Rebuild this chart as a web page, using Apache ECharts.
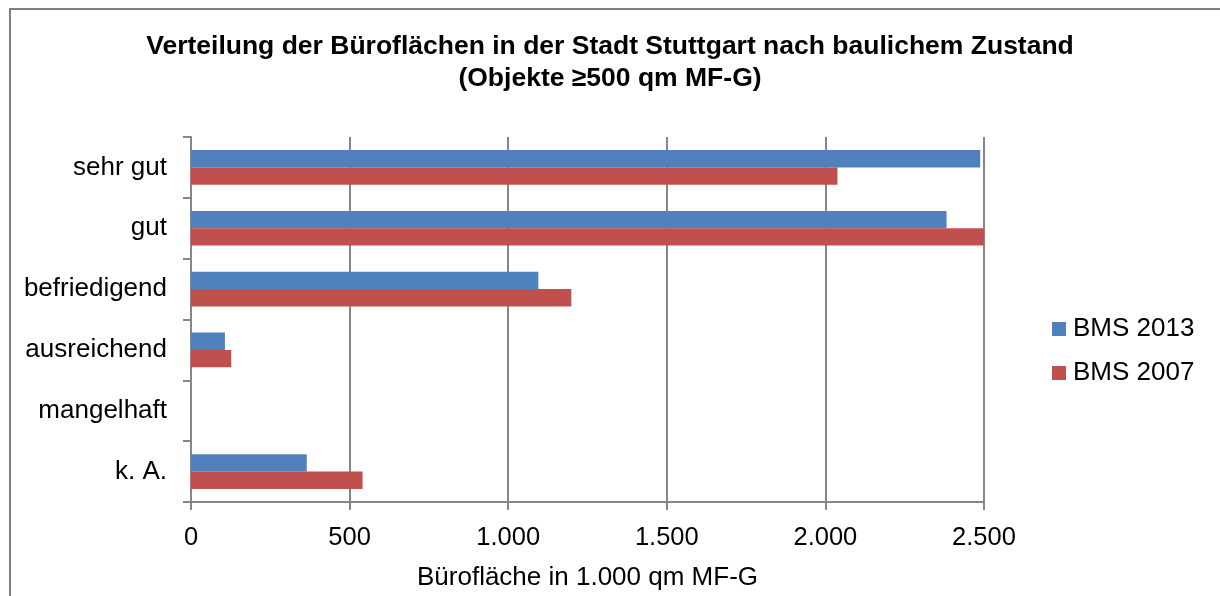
<!DOCTYPE html>
<html>
<head>
<meta charset="utf-8">
<script src="https://cdn.jsdelivr.net/npm/echarts@6/dist/echarts.min.js"></script>
<style>
  html, body { margin: 0; padding: 0; background: #fff; }
  #chart { width: 1220px; height: 596px; }
</style>
</head>
<body>
<div id="chart"></div>
<script>
// categories top to bottom
var categories = ["sehr gut", "gut", "befriedigend", "ausreichend", "mangelhaft", "k. A."];
// Bürofläche in 1.000 qm MF-G
var bms2013 = [2488, 2382, 1095, 107, 0, 365];
var bms2007 = [2038, 2512, 1199, 127, 0, 541];
var xTicks = [0, 500, 1000, 1500, 2000, 2500];

var fontFam = "'Liberation Sans', Arial, sans-serif";
var grey = "#868686";

function deNum(v) {
	return String(v).replace(/\B(?=(\d{3})+(?!\d))/g, ".");
}

var chart = echarts.init(document.getElementById('chart'));
chart.setOption({
	animation: false,
	textStyle: { fontFamily: fontFam },
	title: {
		text: "Verteilung der Büroflächen in der Stadt Stuttgart nach baulichem Zustand\n(Objekte ≥500 qm MF-G)",
		left: 'center',
		top: 26,
		textStyle: {
			fontFamily: fontFam,
			fontSize: 26.5,
			fontWeight: 'bold',
			color: '#000',
			lineHeight: 32
		}
	},
	legend: {
		orient: 'vertical',
		left: 1047,
		top: 311,
		itemWidth: 14,
		itemHeight: 14,
		itemGap: 18,
		icon: 'rect',
		itemStyle: { borderWidth: 0 },
		textStyle: { fontSize: 26, color: '#000', fontFamily: fontFam, padding: [0, 0, 0, 2] },
		data: ["BMS 2013", "BMS 2007"]
	},
	grid: {
		left: 191,
		right: 236,
		top: 137,
		bottom: 91,
		containLabel: false
	},
	xAxis: {
		type: 'value',
		min: xTicks[0],
		max: xTicks[xTicks.length - 1],
		interval: 500,
		name: "Bürofläche in 1.000 qm MF-G",
		nameLocation: 'middle',
		nameGap: 63,
		nameTextStyle: { fontSize: 26, color: '#000', fontFamily: fontFam },
		axisLine: { show: true, lineStyle: { color: grey, width: 2 } },
		axisTick: { show: true, length: 8, lineStyle: { color: grey, width: 2 } },
		splitLine: { show: true, lineStyle: { color: grey, width: 2 } },
		axisLabel: {
			fontSize: 25.5,
			color: '#000',
			margin: 23,
			formatter: function (v) { return deNum(v); }
		}
	},
	yAxis: {
		type: 'category',
		inverse: true,
		data: categories,
		axisLine: { show: true, lineStyle: { color: grey, width: 2 } },
		axisTick: { show: true, length: 8, lineStyle: { color: grey, width: 2 } },
		axisLabel: { fontSize: 26, color: '#000', margin: 24 },
		splitLine: { show: false }
	},
	series: [{
		name: "BMS 2013",
		type: 'bar',
		data: bms2013,
		barGap: '0%',
		barCategoryGap: '43%',
		itemStyle: { color: '#4F81BD' }
	}, {
		name: "BMS 2007",
		type: 'bar',
		data: bms2007,
		barGap: '0%',
		barCategoryGap: '43%',
		itemStyle: { color: '#C0504D' }
	}],
	graphic: [{
		type: 'polyline',
		silent: true,
		shape: { points: [[10, 596], [10, 9], [1220, 9]] },
		style: { stroke: '#808080', lineWidth: 2, fill: null }
	}]
});
</script>
</body>
</html>
